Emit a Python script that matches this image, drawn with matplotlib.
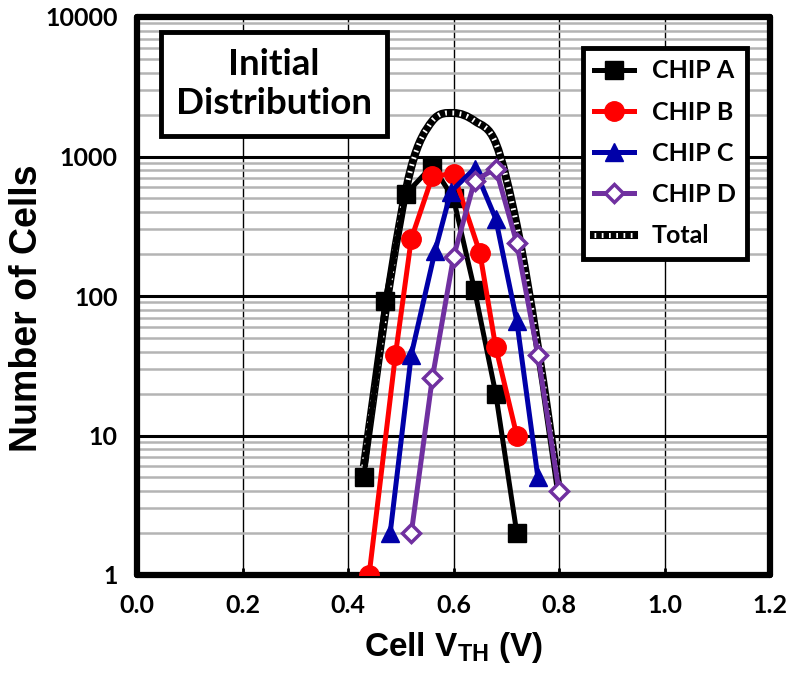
import matplotlib
matplotlib.use("Agg")
import matplotlib.pyplot as plt
import numpy as np
from matplotlib.path import Path
from matplotlib.patches import PathPatch
from matplotlib.lines import Line2D
from matplotlib.ticker import FixedLocator, NullFormatter

# ---- data ----
chip_a_x = [0.43, 0.47, 0.51, 0.56, 0.60, 0.64, 0.68, 0.72]
chip_a_y = [5, 92, 540, 860, 500, 110, 20, 2]
chip_b_x = [0.44, 0.49, 0.52, 0.56, 0.60, 0.65, 0.68, 0.72]
chip_b_y = [1, 38, 257, 720, 755, 204, 43, 10]
chip_c_x = [0.48, 0.52, 0.565, 0.595, 0.64, 0.68, 0.72, 0.76]
chip_c_y = [2, 38, 210, 560, 820, 358, 66, 5]
chip_d_x = [0.52, 0.56, 0.60, 0.64, 0.68, 0.72, 0.76, 0.80]
chip_d_y = [2, 26, 190, 670, 820, 240, 38, 4]
total_x = [0.43, 0.48, 0.52, 0.56, 0.60, 0.64, 0.68, 0.72, 0.76, 0.80]
total_y = [6, 130, 840, 1800, 2050, 1800, 1250, 320, 43, 4]

x_ticks = [0.0, 0.2, 0.4, 0.6, 0.8, 1.0, 1.2]
x_tick_labels = ["0.0", "0.2", "0.4", "0.6", "0.8", "1.0", "1.2"]
y_ticks = [1, 10, 100, 1000, 10000]
y_tick_labels = ["1", "10", "100", "1000", "10000"]
legend_labels = ["CHIP A", "CHIP B", "CHIP C", "CHIP D", "Total"]

plt.rcParams['mathtext.fontset'] = 'custom'
plt.rcParams['mathtext.rm'] = 'Liberation Sans:bold'
plt.rcParams['mathtext.bf'] = 'Liberation Sans:bold'

fig = plt.figure(figsize=(7.98, 6.75), dpi=100)
ax = fig.add_axes([137/798, 1-575/675, (770-137)/798, (575-17)/675])
ax.set_yscale('log')
ax.set_xlim(0, 1.2)
ax.set_ylim(1, 10000)

# grid
ax.yaxis.set_minor_locator(FixedLocator([m * 10**d for d in range(4) for m in range(2, 10)]))
ax.yaxis.set_minor_formatter(NullFormatter())
ax.grid(which='minor', axis='y', color='#b4b4b4', lw=1.8, zorder=0)
ax.grid(which='major', axis='y', color='black', lw=2.2, zorder=0.5)
ax.grid(which='major', axis='x', color='black', lw=1.0, zorder=0.5)
ax.set_axisbelow(True)

# smooth total curve (Bezier path built from the data points in log space)
px = np.array(total_x)
py = np.log10(np.array(total_y, dtype=float))
P = np.column_stack([px, py])
n = len(P)
verts = [P[0]]
codes = [Path.MOVETO]
for i in range(n - 1):
    p0 = P[i - 1] if i > 0 else P[i]
    p1 = P[i]
    p2 = P[i + 1]
    p3 = P[i + 2] if i + 2 < n else P[i + 1]
    c1 = p1 + (p2 - p0) / 6.0
    c2 = p2 - (p3 - p1) / 6.0
    verts += [c1, c2, p2]
    codes += [Path.CURVE4] * 3
verts = np.array(verts)
verts[:, 1] = 10 ** verts[:, 1]
path = Path(verts, codes)
ax.add_patch(PathPatch(path, fill=False, edgecolor='black', lw=5.8, zorder=2,
                       capstyle='butt', joinstyle='round'))
ax.add_patch(PathPatch(path, fill=False, edgecolor='white', lw=3.6, zorder=2.1,
                       linestyle=(0, (0.35, 1.1)), capstyle='butt'))

lw = 3.6
ax.plot(chip_a_x, chip_a_y, color='black', lw=lw, marker='s', ms=13, zorder=3)
ax.plot(chip_b_x, chip_b_y, color='#ff0000', lw=lw, marker='o', ms=14, zorder=3.1)
ax.plot(chip_c_x, chip_c_y, color='#0000a8', lw=lw, marker='^', ms=13, zorder=3.2)
ax.plot(chip_d_x, chip_d_y, color='#7030a0', lw=lw, marker='D', ms=9,
        mfc='white', mec='#7030a0', mew=2.5, zorder=3.3)

# ticks
ax.set_xticks(x_ticks)
ax.set_xticklabels(x_tick_labels)
ax.set_yticks(y_ticks)
ax.set_yticklabels(y_tick_labels)
ax.tick_params(which='major', direction='in', length=5, width=2, pad=14, colors='black')
ax.tick_params(which='minor', length=0)
for lab in ax.get_xticklabels() + ax.get_yticklabels():
    lab.set_fontfamily('Lato')
    lab.set_fontweight('bold')
    lab.set_fontsize(18)

for s in ax.spines.values():
    s.set_linewidth(4.5)
    s.set_color('black')
    s.set_capstyle('round')

ax.set_ylabel('Number of Cells', fontfamily='Liberation Sans', fontweight='bold',
              fontsize=27)
ax.yaxis.set_label_coords(-0.145, 0.478)
ax.set_xlabel(r'Cell V$_{\mathrm{TH}}$ (V)', fontfamily='Liberation Sans',
              fontweight='bold', fontsize=24, labelpad=9)

# title box
fig.text(274 / 798, 1 - 84 / 675, 'Initial\nDistribution', ha='center', va='center',
         fontfamily='Lato', fontweight='bold', fontsize=26.5, linespacing=1.25,
         bbox=dict(boxstyle='square,pad=0.42', fc='white', ec='black', lw=3.5))

# legend
h_a = Line2D([], [], color='black', lw=lw, marker='s', ms=13)
h_b = Line2D([], [], color='#ff0000', lw=lw, marker='o', ms=14)
h_c = Line2D([], [], color='#0000a8', lw=lw, marker='^', ms=13)
h_d = Line2D([], [], color='#7030a0', lw=lw, marker='D', ms=9, mfc='white', mec='#7030a0', mew=2.5)
h_t1 = Line2D([], [], color='black', lw=5.8)
h_t2 = Line2D([], [], color='white', lw=3.6, linestyle=(0, (0.35, 1.1)))
leg = ax.legend([h_a, h_b, h_c, h_d, (h_t1, h_t2)], legend_labels,
                loc='upper right', bbox_to_anchor=((747 - 137) / 633, 1 - (48 - 17) / 558),
                prop={'family': 'Lato', 'weight': 'bold', 'size': 18},
                frameon=True, fancybox=False, edgecolor='black', framealpha=1,
                handlelength=1.6, handletextpad=0.7, labelspacing=0.73,
                borderpad=0.45, borderaxespad=0)
leg.get_frame().set_linewidth(3.5)
leg.set_zorder(5)

fig.savefig('out.png', dpi=100)
